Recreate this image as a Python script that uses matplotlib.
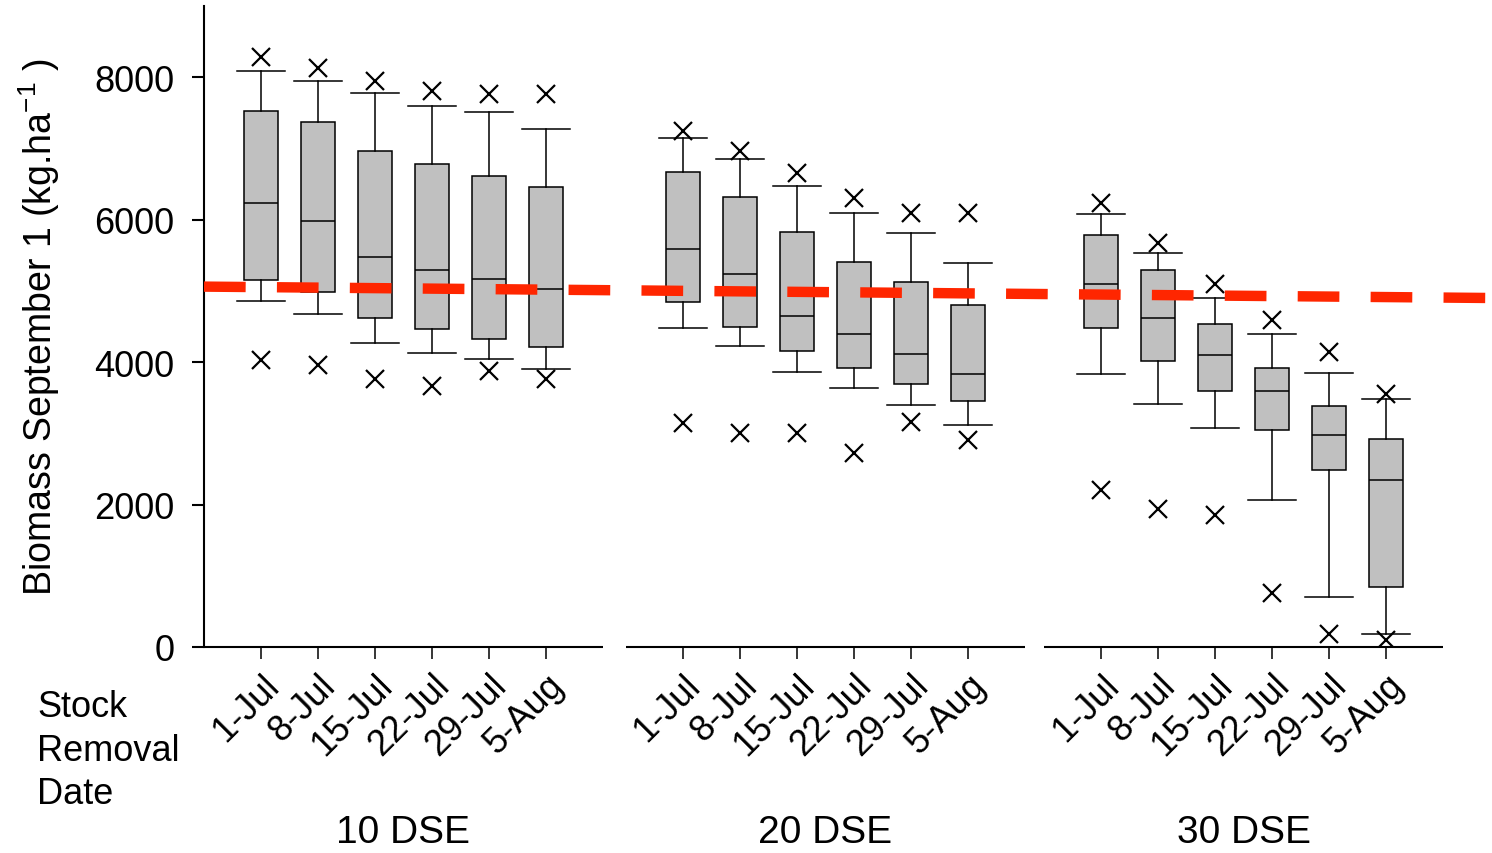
import matplotlib
matplotlib.use("Agg")
import matplotlib.pyplot as plt
import matplotlib.transforms as mtransforms

plt.rcParams['font.family'] = ['Liberation Sans', 'DejaVu Sans']
plt.rcParams['mathtext.fontset'] = 'custom'
plt.rcParams['mathtext.rm'] = 'Liberation Sans'
plt.rcParams['mathtext.it'] = 'Liberation Sans:italic'
plt.rcParams['mathtext.bf'] = 'Liberation Sans:bold'

# ---------------- data ----------------
groups = ['10 DSE', '20 DSE', '30 DSE']
dates = ['1-Jul', '8-Jul', '15-Jul', '22-Jul', '29-Jul', '5-Aug']

whisker_high = [[8090, 7940, 7780, 7600, 7510, 7270],
                [7150, 6850, 6470, 6100, 5810, 5390],
                [6080, 5530, 4900, 4400, 3850, 3480]]
quartile_3 = [[7530, 7370, 6970, 6780, 6620, 6460],
              [6670, 6320, 5830, 5410, 5130, 4800],
              [5790, 5290, 4540, 3920, 3380, 2920]]
median = [[6230, 5980, 5480, 5300, 5160, 5020],
          [5590, 5240, 4650, 4390, 4110, 3840],
          [5100, 4620, 4100, 3600, 2980, 2350]]
quartile_1 = [[5150, 4980, 4620, 4470, 4330, 4210],
              [4840, 4490, 4160, 3920, 3690, 3460],
              [4480, 4010, 3600, 3040, 2480, 840]]
whisker_low = [[4860, 4680, 4270, 4130, 4050, 3910],
               [4480, 4220, 3860, 3640, 3400, 3110],
               [3840, 3410, 3070, 2070, 700, 180]]
outlier_high = [[8290, 8130, 7940, 7800, 7760, 7760],
                [7240, 6960, 6650, 6300, 6090, 6090],
                [6230, 5670, 5100, 4590, 4140, 3550]]
outlier_low = [[4030, 3960, 3760, 3670, 3870, 3760],
               [3150, 3010, 3010, 2720, 3160, 2910],
               [2210, 1940, 1860, 760, 180, 100]]

# reference (dashed red) line: value at left and right ends of the plot
reference_line = [5060, 4900]

y_ticks = [0, 2000, 4000, 6000, 8000]

# ---------------- layout ----------------
group_offsets = [0.0, 7.40, 14.74]   # start of each group's axis segment
x_max = 22.6

fig = plt.figure(figsize=(14.92, 8.54), dpi=100)
ax = fig.add_axes([204 / 1492, 1 - 648 / 854, (1492 - 204) / 1492, (648 - 7) / 854])

stats = []
positions = []
labels = []
for g in range(len(groups)):
    for i in range(len(dates)):
        stats.append(dict(med=median[g][i], q1=quartile_1[g][i], q3=quartile_3[g][i],
                          whislo=whisker_low[g][i], whishi=whisker_high[g][i],
                          fliers=[outlier_low[g][i], outlier_high[g][i]]))
        positions.append(group_offsets[g] + 1 + i)
        labels.append(dates[i])

ax.bxp(stats, positions=positions, widths=0.6, capwidths=0.84, patch_artist=True,
       showfliers=True,
       boxprops=dict(facecolor='#c0c0c0', edgecolor='black', linewidth=1.1),
       medianprops=dict(color='black', linewidth=1.1),
       whiskerprops=dict(color='black', linewidth=1.1),
       capprops=dict(color='black', linewidth=1.1),
       flierprops=dict(marker='x', markersize=13.5, markeredgewidth=1.6,
                       markeredgecolor='black', linestyle='none'))

# red dashed reference line
ax.plot([0, x_max], reference_line, color='#ff2600', linewidth=7.5,
        dashes=(4, 3), solid_capstyle='butt', dash_capstyle='butt', zorder=6)

# axes styling
ax.set_xlim(0, x_max)
ax.set_ylim(0, 9000)
for s in ['top', 'right', 'bottom']:
    ax.spines[s].set_visible(False)
ax.spines['left'].set_linewidth(1.5)

# broken x axis segments
for g in range(len(groups)):
    ax.plot([group_offsets[g], group_offsets[g] + 7], [0, 0], color='black',
            linewidth=1.5, clip_on=False, zorder=7, solid_capstyle='butt')

ax.set_yticks(y_ticks)
ax.set_yticklabels([str(v) for v in y_ticks], fontsize=26)
ax.tick_params(axis='y', direction='out', length=8.5, width=1.5, pad=13)

ax.set_xticks(positions)
ax.set_xticklabels(labels, fontsize=26, rotation=45, ha='right', va='top',
                   rotation_mode='anchor')
ax.tick_params(axis='x', direction='out', length=8.5, width=1.1, pad=6)

ax.set_ylabel('Biomass September 1 (kg.ha$^{-1}$ )', fontsize=27)
ax.yaxis.set_label_coords(-0.11, 0.5)

# group labels
trans = mtransforms.blended_transform_factory(ax.transData, fig.transFigure)
for g, name in enumerate(groups):
    ax.text(group_offsets[g] + 3.5, 1 - 833 / 854, name, transform=trans,
            ha='center', va='center', fontsize=28)

fig.text(37 / 1492, 1 - 690 / 854, 'Stock\nRemoval\nDate', ha='left', va='top',
         fontsize=26, linespacing=1.32)

fig.savefig('out.png', dpi=100)
